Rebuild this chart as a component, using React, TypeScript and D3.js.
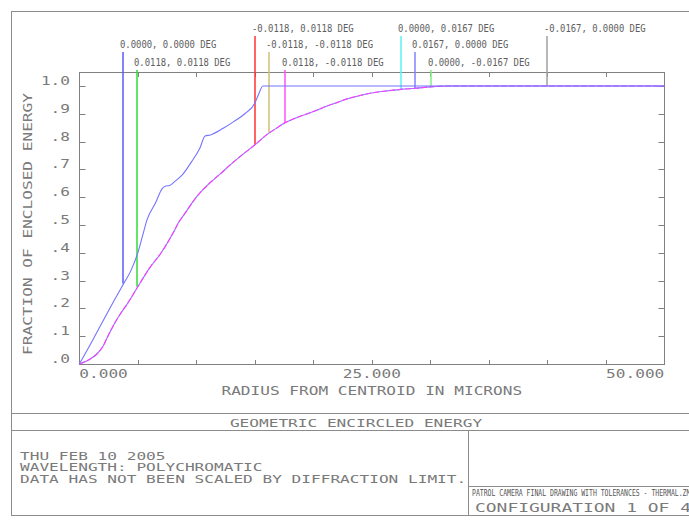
import React from "react";
import * as d3 from "d3";

// on-axis field (0,0) curve
const onAxisRadius = [0, 1, 2, 3, 3.8, 4.4, 5, 5.4, 5.8, 6.5, 7.1, 7.4, 7.7, 8.2, 8.8, 9.6, 10.3, 10.75, 11.2, 12.3, 13.2, 14.2, 15, 15.3, 15.7, 50];
const onAxisEnergy = [0, 0.075, 0.153, 0.23, 0.29, 0.335, 0.4, 0.46, 0.52, 0.578, 0.632, 0.64, 0.642, 0.658, 0.68, 0.728, 0.776, 0.82, 0.824, 0.848, 0.872, 0.902, 0.938, 0.968, 1.0, 1.0];

// off-axis fields all sit on the same curve
const offAxisRadius = [0, 1, 1.5, 2, 2.5, 3, 3.5, 4, 5, 6, 7, 8, 8.5, 9, 10, 11, 12, 13, 14, 15, 16, 17, 17.5, 18, 19, 20, 21, 22, 23, 24, 25, 26, 27.5, 28.75, 30, 31.5, 50];
const offAxisEnergy = [0, 0.02, 0.036, 0.062, 0.105, 0.145, 0.18, 0.21, 0.278, 0.345, 0.4, 0.47, 0.51, 0.54, 0.6, 0.645, 0.682, 0.72, 0.755, 0.788, 0.824, 0.852, 0.866, 0.876, 0.893, 0.908, 0.925, 0.94, 0.955, 0.966, 0.975, 0.981, 0.988, 0.992, 0.997, 1.0, 1.0];

// field labels along the top
const fieldLabels = [
  "0.0000, 0.0000 DEG",
  "0.0118, 0.0118 DEG",
  "-0.0118, 0.0118 DEG",
  "-0.0118, -0.0118 DEG",
  "0.0118, -0.0118 DEG",
  "0.0000, 0.0167 DEG",
  "0.0167, 0.0000 DEG",
  "0.0000, -0.0167 DEG",
  "-0.0167, 0.0000 DEG",
];
const fieldColors = ["#5a5aff", "#32dc32", "#ff3232", "#d2be78", "#ff50ff", "#5af5f5", "#8282ff", "#82ee82", "#a0a0a0"];
const fieldRadius = [3.8, 5, 15, 16.25, 17.5, 27.5, 28.75, 30, 40];
const fieldEnergy = [0.29, 0.278, 0.788, 0.832, 0.866, 0.988, 0.992, 0.998, 1.0];
const fieldRow = [1, 2, 0, 1, 2, 0, 1, 2, 0];

const yTickValues = [1.0, 0.9, 0.8, 0.7, 0.6, 0.5, 0.4, 0.3, 0.2, 0.1, 0.0];
const yTickLabels = ["1.0", ".9", ".8", ".7", ".6", ".5", ".4", ".3", ".2", ".1", ".0"];
const xTickLabels = ["0.000", "25.000", "50.000"];

const infoLines = [
  "THU FEB 10 2005",
  "WAVELENGTH: POLYCHROMATIC",
  "DATA HAS NOT BEEN SCALED BY DIFFRACTION LIMIT.",
];

const FONT = "'DejaVu Sans Mono', monospace";
const TEXT = "#7a7a7a";
const FRAME = "#8c8c8c";

// stroke-font look: fixed advance per char, glyphs stretched to fit
function Txt({ x, y, text, size = 12, adv = 9.7, anchor = "start", fill = TEXT, transform }: any) {
  return (
    <text
      x={x}
      y={y}
      fontFamily={FONT}
      fontSize={size}
      fill={fill}
      textAnchor={anchor}
      textLength={text.length * adv}
      lengthAdjust="spacingAndGlyphs"
      transform={transform}
    >
      {text}
    </text>
  );
}

const px = (v: number) => Math.round(v) + 0.5;

export default function App() {
  const W = 689;
  const H = 520;

  const x = d3.scaleLinear().domain([0, 50]).range([79.3, 664.3]);
  const y = d3.scaleLinear().domain([0, 1.05]).range([364, 72.1]);
  const line = d3
    .line<[number, number]>()
    .x((d) => x(d[0]))
    .y((d) => y(d[1]))
    .curve(d3.curveMonotoneX);

  const onAxis = line(onAxisRadius.map((r, i) => [r, onAxisEnergy[i]]) as [number, number][]) || "";
  const offAxis = line(offAxisRadius.map((r, i) => [r, offAxisEnergy[i]]) as [number, number][]) || "";

  const rowBase = [31.7, 48.3, 66];
  const xTicks = d3.range(5, 50, 5);
  const [x0, x1] = x.range();
  const [yb, yt] = y.range();

  return (
    <>
      <style>{`body{margin:0}`}</style>
      <svg width={W} height={H} style={{ display: "block", background: "#fff" }}>
        {/* outer frame and title blocks */}
        <g stroke={FRAME} strokeWidth={1} fill="none">
          <rect x={11.5} y={11.5} width={700} height={504} />
          <line x1={11} x2={711} y1={413.5} y2={413.5} />
          <line x1={11} x2={711} y1={430.5} y2={430.5} />
          <line x1={468.5} x2={468.5} y1={431} y2={516} />
          <line x1={468} x2={711} y1={486.5} y2={486.5} />
        </g>

        {/* plot box */}
        <g stroke="#808080" strokeWidth={1} fill="none">
          <rect x={px(x0)} y={px(yt)} width={Math.round(x1 - x0)} height={Math.round(yb - yt)} />
          {xTicks.map((t) => (
            <g key={t}>
              <line x1={px(x(t))} x2={px(x(t))} y1={px(yb)} y2={px(yb) - 4.5} />
              <line x1={px(x(t))} x2={px(x(t))} y1={px(yt)} y2={px(yt) + 4.5} />
            </g>
          ))}
          {yTickValues.map((t) => (
            <g key={t}>
              <line x1={px(x0)} x2={px(x0) + 6} y1={px(y(t))} y2={px(y(t))} />
              <line x1={px(x1)} x2={px(x1) - 6} y1={px(y(t))} y2={px(y(t))} />
            </g>
          ))}
        </g>

        {/* tick labels */}
        {yTickValues.map((t, i) => (
          <Txt key={t} x={70} y={y(t) - 1} text={yTickLabels[i]} size={12} adv={9.7} anchor="end" />
        ))}
        <Txt x={x(0)} y={378} text={xTickLabels[0]} size={11.5} />
        <Txt x={x(25)} y={378} text={xTickLabels[1]} size={11.5} anchor="middle" />
        <Txt x={x(50)} y={378} text={xTickLabels[2]} size={11.5} anchor="end" />

        {/* axis titles */}
        <Txt x={(x0 + x1) / 2} y={394.5} text="RADIUS FROM CENTROID IN MICRONS" size={12} anchor="middle" />
        <Txt
          x={-224}
          y={32}
          text="FRACTION OF ENCLOSED ENERGY"
          size={12}
          anchor="middle"
          transform="rotate(-90)"
        />

        {/* field marker lines + labels */}
        {fieldLabels.map((lab, i) => {
          const lx = 2 * Math.round((x(fieldRadius[i]) - 1) / 2) + 1;
          const base = rowBase[fieldRow[i]];
          return (
            <g key={lab}>
              <line
                x1={lx}
                x2={lx}
                y1={Math.round(base + 4)}
                y2={y(fieldEnergy[i])}
                stroke={fieldColors[i]}
                strokeWidth={1.5}
              />
              <Txt x={lx - 3} y={base} text={lab} size={10.5} adv={5.35} fill="#5e5e5e" />
            </g>
          );
        })}

        {/* curves */}
        <path d={offAxis} fill="none" stroke="#8080ff" strokeWidth={1.1} />
        <path d={offAxis} fill="none" stroke="#ff3cff" strokeWidth={1.1} strokeDasharray="6 2" />
        <path d={onAxis} fill="none" stroke="#7474ff" strokeWidth={1.1} />

        {/* bottom text */}
        <Txt x={356} y={426.5} text="GEOMETRIC ENCIRCLED ENERGY" size={11} anchor="middle" />
        {infoLines.map((t, i) => (
          <Txt key={t} x={20} y={459.5 + i * 11.5} text={t} size={10.5} adv={9.7} />
        ))}
        <Txt
          x={472}
          y={496}
          text="PATROL CAMERA FINAL DRAWING WITH TOLERANCES - THERMAL.ZMX"
          size={9}
          adv={3.9}
          fill="#555"
        />
        <Txt x={475} y={512} text="CONFIGURATION 1 OF 4" size={12.5} adv={10.8} />
      </svg>
    </>
  );
}
